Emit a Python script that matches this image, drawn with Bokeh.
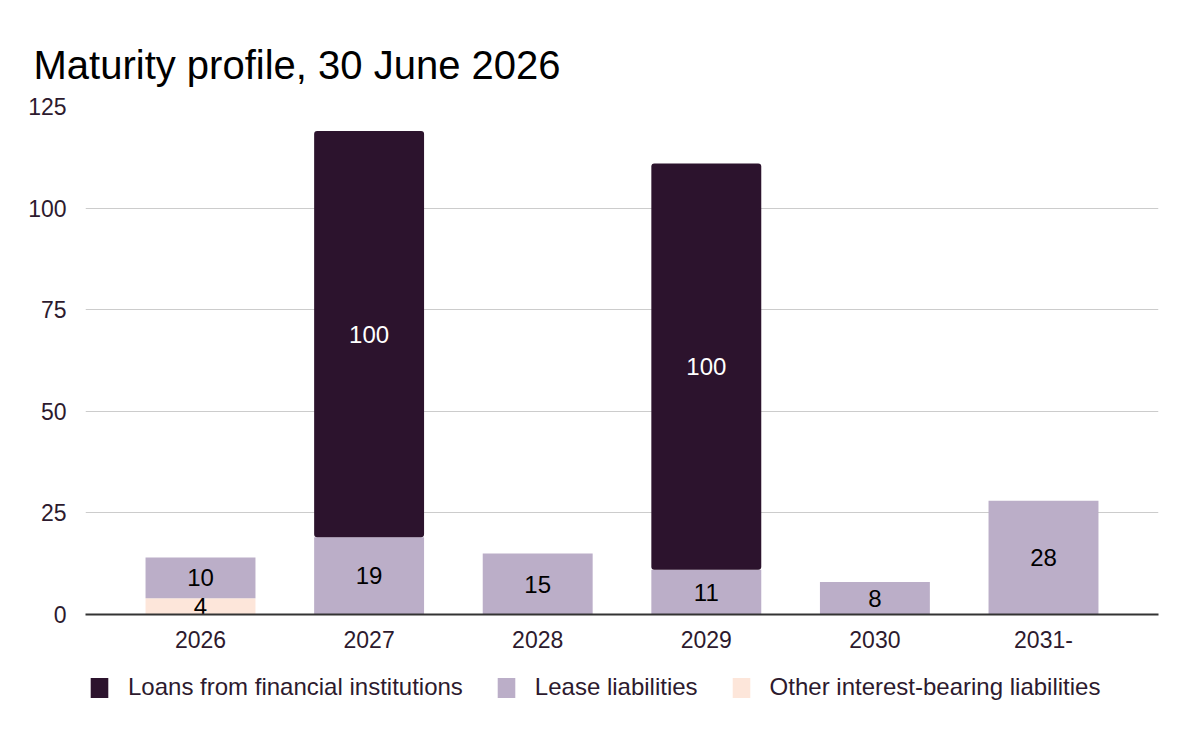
from bokeh.plotting import figure
from bokeh.layouts import column
from bokeh.models import ColumnDataSource, Legend, LegendItem
from bokeh.core.properties import value
from bokeh.embed import file_html
from bokeh.resources import INLINE

years = ["2026", "2027", "2028", "2029", "2030", "2031-"]
other = [4, 0, 0, 0, 0, 0]
lease = [10, 19, 15, 11, 8, 28]
loans = [0, 100, 0, 100, 0, 0]

series = ["other", "lease", "loans"]
names = {"loans": "Loans from financial institutions",
         "lease": "Lease liabilities",
         "other": "Other interest-bearing liabilities"}
colors = {"loans": "#2c132d", "lease": "#bbaec8", "other": "#fde6da"}
FONT = "Liberation Sans"
INK = "#2d1a2e"

src = ColumnDataSource(dict(years=years, other=other, lease=lease, loans=loans))

p = figure(x_range=years, y_range=(0, 125), frame_width=1073, frame_height=508,
           output_backend="svg", toolbar_location=None,
           min_border_left=85, min_border_right=24, min_border_top=106,
           min_border_bottom=50)
p.x_range.range_padding = 0.0607
p.title.text = "Maturity profile, 30 June 2026"
p.title.text_font = FONT
p.title.text_font_size = "40px"
p.title.text_font_style = "normal"
p.title.text_color = "#000000"
p.title.offset = -52
p.title.standoff = 40

renderers = p.vbar_stack(series, x="years", width=0.652, source=src,
                         color=[colors[s] for s in series], line_color=None)
renderers[2].glyph.border_radius = 3

# value labels in the middle of each segment
lx, ly, lt, lc = [], [], [], []
for i, yr in enumerate(years):
    base = 0
    for s, vals in (("other", other), ("lease", lease), ("loans", loans)):
        v = vals[i]
        if v:
            lx.append(yr)
            ly.append(base + v / 2)
            lt.append(str(v))
            lc.append("#ffffff" if s == "loans" else "#000000")
        base += v
p.text(x=lx, y=ly, text=lt, text_color=lc, text_align="center",
       text_baseline="middle", text_font=value(FONT), text_font_size="24px")

p.outline_line_color = None
p.xgrid.grid_line_color = None
p.ygrid.grid_line_color = "#cccccc"
p.ygrid.grid_line_width = 1

p.yaxis.ticker = [0, 25, 50, 75, 100, 125]
p.yaxis.axis_line_color = None
p.yaxis.major_tick_line_color = None
p.yaxis.minor_tick_line_color = None
p.yaxis.major_label_text_font = FONT
p.yaxis.major_label_text_font_size = "23px"
p.yaxis.major_label_text_color = INK
p.yaxis.major_label_standoff = 13

p.xaxis.axis_line_color = "#333333"
p.xaxis.axis_line_width = 2
p.xaxis.major_tick_line_color = None
p.xaxis.minor_tick_line_color = None
p.xaxis.major_label_text_font = FONT
p.xaxis.major_label_text_font_size = "23px"
p.xaxis.major_label_text_color = INK
p.xaxis.major_label_standoff = 10

# legend lives in its own strip under the chart
leg = figure(x_range=(0, 1), y_range=(0, 1), width=1182, height=60,
             output_backend="svg", toolbar_location=None, min_border=0,
             x_axis_location=None, y_axis_location=None)
leg.grid.grid_line_color = None
leg.outline_line_color = None

order = ["loans", "lease", "other"]
items = []
for s in order:
    # off-range dummy bar, only there so the legend swatch gets drawn
    r = leg.vbar(x=[-5], top=[-5], bottom=[-6], width=0.1,
                 fill_color=colors[s], line_color=None)
    items.append(LegendItem(label=names[s], renderers=[r]))
legend = Legend(items=items, orientation="horizontal", location=(3, 23),
                label_text_font=FONT, label_text_font_size="24px",
                label_text_color=INK, glyph_width=22, glyph_height=25,
                label_height=25, label_standoff=18, spacing=32,
                border_line_color=None, background_fill_alpha=0,
                margin=0, padding=0)
leg.add_layout(legend, "center")

open("out.html", "w").write(file_html(column(p, leg, spacing=0), INLINE))
